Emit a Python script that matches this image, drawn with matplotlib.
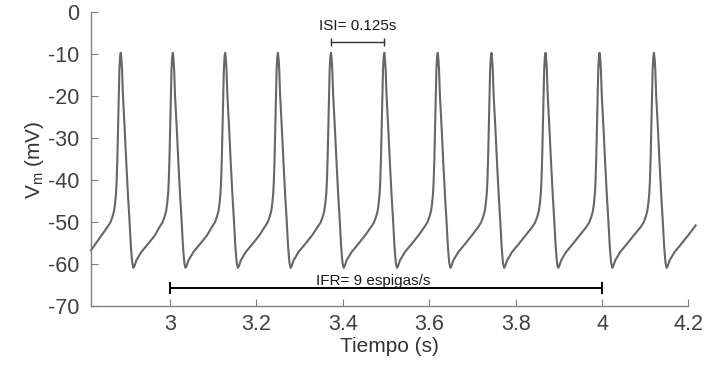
import numpy as np
import matplotlib
matplotlib.use('Agg')
import matplotlib.pyplot as plt

plt.rcParams['font.family'] = ['Liberation Sans', 'DejaVu Sans']
plt.rcParams['mathtext.fontset'] = 'custom'
plt.rcParams['mathtext.rm'] = 'Liberation Sans'
plt.rcParams['mathtext.it'] = 'Liberation Sans:italic'
plt.rcParams['axes.unicode_minus'] = False

#%% Data
# spike peak times (s)
spike_times = [2.8857, 3.0063, 3.1275, 3.2496, 3.3724, 3.4959,
               3.6195, 3.7439, 3.8690, 3.9942, 4.1201]
peak_v = -9.6

# shape of one action potential after the peak (time after peak, mV)
post_dt = [0.0015, 0.0031, 0.0050, 0.0093, 0.0130, 0.0170, 0.0200,
           0.0232, 0.0255, 0.0270, 0.0294, 0.0320, 0.0363,
           0.0479, 0.0633, 0.0788]
post_v = [-11.0, -13.7, -19.5, -28.0, -36.0, -43.9, -49.0,
          -55.1, -58.3, -59.8, -60.8, -60.3, -59.0,
          -57.0, -55.1, -53.1]
# upstroke before the peak (time before peak, mV)
pre_dt = [-0.0309, -0.0240, -0.0193, -0.0155, -0.0131, -0.0108,
          -0.0093, -0.0077, -0.0062, -0.0046, -0.0031, -0.0015]
pre_v = [-51.1, -50.0, -48.7, -47.3, -45.5, -43.0,
         -39.9, -34.5, -28.0, -20.5, -13.7, -10.6]

# first and last recorded samples
t_start, v_start = 2.8169, -56.6
t_end, v_end = 4.2167, -50.7

xticks = [3, 3.2, 3.4, 3.6, 3.8, 4, 4.2]
xticklabels = ['3', '3.2', '3.4', '3.6', '3.8', '4', '4.2']
yticks = [0, -10, -20, -30, -40, -50, -60, -70]

isi_label = 'ISI= 0.125s'
ifr_label = 'IFR= 9 espigas/s'
ifr_window = [3, 4]

#%% Build the trace
t = [t_start]
v = [v_start]
for ts in spike_times:
    t += [ts + d for d in pre_dt] + [ts] + [ts + d for d in post_dt]
    v += pre_v + [peak_v] + post_v
t.append(t_end)
v.append(v_end)
t = np.array(t)
v = np.array(v)

#%% Plot
fig = plt.figure(figsize=(7.06, 3.67), dpi=100)
ax = fig.add_axes([0.1289, 0.1649, 0.8463, 0.8011])

ax.plot(t, v, color='#666666', lw=1.5, clip_on=False)

# ISI marker between two neighbouring spikes
isi_y = -7
ax.plot([spike_times[4], spike_times[5]], [isi_y, isi_y], color='#333333',
        lw=1, marker='|', markersize=6, markeredgewidth=1)
ax.text((spike_times[4] + spike_times[5]) / 2, -3.3, isi_label,
        ha='center', va='center', fontsize=11, color='#1a1a1a')

# counting window for the firing rate
ifr_y = -65.5
ax.plot(ifr_window, [ifr_y, ifr_y], color='black', lw=1.4,
        marker='|', markersize=8, markeredgewidth=1.4)
ax.text(3.469, -64.8, ifr_label, ha='center', va='baseline',
        fontsize=11, color='#1a1a1a')

ax.set_xlim(t_start, 4.2)
ax.set_ylim(-70, 0)
ax.set_xticks(xticks)
ax.set_xticklabels(xticklabels)
ax.set_yticks(yticks)

for side in ['top', 'right']:
    ax.spines[side].set_visible(False)
for side in ['left', 'bottom']:
    ax.spines[side].set_color('#808080')
    ax.spines[side].set_linewidth(1)

ax.tick_params(axis='both', direction='in', length=5, width=0.8,
               color='#808080', labelcolor='#404040', labelsize=15.5)
ax.tick_params(axis='x', pad=5.6)
ax.tick_params(axis='y', pad=8.5)

ax.set_xlabel('Tiempo (s)', fontsize=15, color='#333333', labelpad=1)
ax.set_ylabel(r'V$_{\rm m}$ (mV)', fontsize=15, color='#333333', labelpad=1)

fig.savefig('out.png', dpi=100)
